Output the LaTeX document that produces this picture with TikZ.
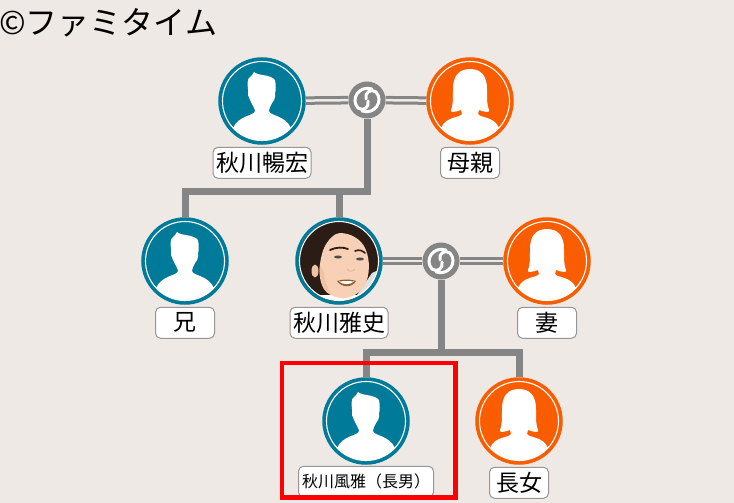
\documentclass[tikz,border=0pt]{standalone}
\usepackage{fontspec}
\setmainfont{Noto Sans CJK JP}
\usetikzlibrary{positioning}
\definecolor{paper}{RGB}{238,233,229}
\definecolor{sonblue}{RGB}{0,122,153}
\definecolor{girlorange}{RGB}{250,92,0}
\definecolor{linkgray}{RGB}{133,133,133}
\definecolor{boxgray}{RGB}{150,150,150}
\definecolor{skin}{RGB}{248,208,182}
\definecolor{hairdark}{RGB}{44,28,22}
\tikzset{man/.style={circle, draw=sonblue, fill=sonblue, line width=3.5pt, minimum size=84pt, inner sep=0pt}}
\tikzset{woman/.style={circle, draw=girlorange, fill=girlorange, line width=3.5pt, minimum size=84pt, inner sep=0pt}}
\tikzset{namebox/.style={rectangle, draw=boxgray, fill=white, rounded corners=5pt, line width=1pt, inner sep=0pt,
 minimum width=59pt, minimum height=31pt, font=\fontsize{23pt}{23pt}\selectfont}}
\tikzset{namewide/.style={namebox, minimum width=98pt}}
\tikzset{namelong/.style={namebox, minimum width=135pt, font=\fontsize{16pt}{16pt}\selectfont}}
\tikzset{linknode/.style={circle, fill=linkgray, minimum size=37pt, inner sep=0pt}}
\tikzset{marriage/.style={draw=linkgray, line width=3pt, double=paper, double distance=2.5pt}}
\tikzset{trunk/.style={draw=linkgray, line width=7pt}}
\newcommand{\manshape}[1]{
  \begin{scope}[shift={(#1.center)}]
    \clip (0,0) circle (39.5);
    \fill[white] (-8,-29) .. controls (-4,-25) and (8,-27) .. (13,-21) .. controls (14,-16) and (14,-10) .. (13,-8)
      .. controls (14,-3) and (11,1) .. (10,2) .. controls (8,6) and (7,8) .. (7,10) .. controls (8,15) and (23,14) .. (29,27)
      -- (45,45) -- (-45,45) -- (-29,27) .. controls (-23,14) and (-8,15) .. (-7,10) .. controls (-7,8) and (-10,3) .. (-12,-1)
      -- (-14,-6) .. controls (-13,-8) and (-15,-10) .. (-14,-12) .. controls (-15,-18) and (-14,-22) .. (-13,-23)
      .. controls (-11,-25) and (-9,-26) .. (-8,-29) -- cycle;
  \end{scope}
  \draw[white, line width=1.1pt] (#1.center) circle (39.5);
}
\newcommand{\womanshape}[1]{
  \begin{scope}[shift={(#1.center)}]
    \clip (0,0) circle (39.5);
    \fill[white] (0,-32) .. controls (12,-32) and (17,-24) .. (17,-12) .. controls (17,-2) and (17,5) .. (19,9)
      .. controls (21,12) and (14,11) .. (9,9) -- (8,13) .. controls (10,17) and (24,15) .. (29,27) -- (45,45) -- (-45,45) -- (-29,27)
      .. controls (-24,15) and (-10,17) .. (-8,13) -- (-9,9) .. controls (-14,11) and (-21,12) .. (-19,9)
      .. controls (-17,5) and (-17,-2) .. (-17,-12) .. controls (-17,-24) and (-12,-32) .. (0,-32) -- cycle;
  \end{scope}
  \draw[white, line width=1.1pt] (#1.center) circle (39.5);
}
\newcommand{\linkshape}[1]{
  \begin{scope}[shift={(#1.center)}, white, line width=3pt, line cap=round]
    \draw (5,-11) .. controls (-8,-15) and (-17,-1) .. (-9,8) .. controls (-4,12) and (3,7) .. (1,1);
    \draw (-5,11) .. controls (8,15) and (17,1) .. (9,-8) .. controls (4,-12) and (-3,-7) .. (-1,-1);
  \end{scope}
}

\begin{document}
\begin{tikzpicture}[x=1pt, y=-1pt]
        \path[fill=paper, use as bounding box] (0,0) rectangle (734,503);
        \node[anchor=west, inner sep=0pt, font=\fontsize{32pt}{32pt}\selectfont] (credit) at (-1,23) {©ファミタイム};

        \node[man]                (father)  at (262,101) {};
        \node[woman]              (mother)  at (470,101) {};
        \node[linknode]           (linka)   at (367,100) {};
        \node[man]                (brother) at (185,261) {};
        \node[man, fill=hairdark] (masashi) at (339,261) {};
        \node[linknode]           (linkb)   at (441,261) {};
        \node[woman]              (wife)    at (547,261) {};
        \node[man]                (son)     at (366,421) {};
        \node[woman]              (daughter) at (519,421) {};

        \coordinate (bara) at (367,191);
        \coordinate (barb) at (441,352);

        \node[namewide, below=2pt of father]  (fathername)   {秋川暢宏};
        \node[namebox, below=2pt of mother]   (mothername)   {母親};
        \node[namebox, below=2pt of brother]  (brothername)  {兄};
        \node[namewide, below=2pt of masashi] (masashiname)  {秋川雅史};
        \node[namebox, below=2pt of wife]     (wifename)     {妻};
        \node[namelong, below=1pt of son]     (sonname)      {秋川風雅（長男）};
        \node[namebox, below=2pt of daughter] (daughtername) {長女};

        \path[marriage] (father) -- (linka);
        \path[marriage] (linka) -- (mother);
        \path[marriage] (masashi) -- (linkb);
        \path[marriage] (linkb) -- (wife);
        \path[trunk] (linka) -- (bara) -| (brother);
        \path[trunk] (bara) -| (masashi);
        \path[trunk] (linkb) -- (barb) -| (son);
        \path[trunk] (barb) -| (daughter);

        \manshape{father}
        \womanshape{mother}
        \manshape{brother}
        \womanshape{wife}
        \manshape{son}
        \womanshape{daughter}
        \linkshape{linka}
        \linkshape{linkb}

        % portrait
        \begin{scope}[shift={(masashi.center)}]
          \clip (0,0) circle (39.5);
          \fill[hairdark] (0,0) circle (39.5);
          \fill[black!12] (14,40) -- (42,40) -- (42,8) -- (33,12) -- cycle;
          \fill[white] (-20,34) -- (30,34) -- (30,42) -- (-20,42) -- cycle;
          \fill[skin] (-3,-27) .. controls (5,-30) and (19,-25) .. (25,-15) .. controls (30,-6) and (32,8) .. (27,22)
            .. controls (22,33) and (10,38) .. (2,37) .. controls (-6,36) and (-12,33) .. (-15,28)
            .. controls (-20,20) and (-21,8) .. (-17,-7) .. controls (-15,-15) and (-10,-23) .. (-3,-27) -- cycle;
          \fill[skin!85!brown] (-24,10) ellipse (3.5 and 6.5);
          \fill[skin!85!brown] (-15,28) .. controls (-19,18) and (-20,10) .. (-19,4) -- (-15,12) .. controls (-14,20) and (-12,26) .. (-8,33) -- cycle;
          \draw[hairdark, line width=1.8pt, line cap=round] (-9,-11) .. controls (-3,-14) and (4,-14) .. (9,-12);
          \draw[hairdark, line width=1.6pt, line cap=round] (16,-10) .. controls (20,-12) and (24,-10) .. (26,-8);
          \fill[black!70] (-1,-4) ellipse (3.8 and 1.5);
          \fill[black!70] (21,-2) ellipse (3.8 and 1.5);
          \draw[skin!65!brown, line width=0.7pt] (8,8) .. controls (10,11) and (14,11) .. (16,8);
          \fill[brown!75!black] (-2,20) .. controls (4,18) and (12,18) .. (17,20) .. controls (13,27) and (3,27) .. (-2,20) -- cycle;
          \fill[white] (0,20.5) .. controls (5,20) and (11,20) .. (15,20.5) .. controls (11,24) and (4,24) .. (0,20.5) -- cycle;
        \end{scope}
        \draw[white, line width=1.1pt] (masashi.center) circle (39.5);

        \draw[red, line width=4.5pt] (282,363) rectangle (455.5,497.5);
\end{tikzpicture}
\end{document}
